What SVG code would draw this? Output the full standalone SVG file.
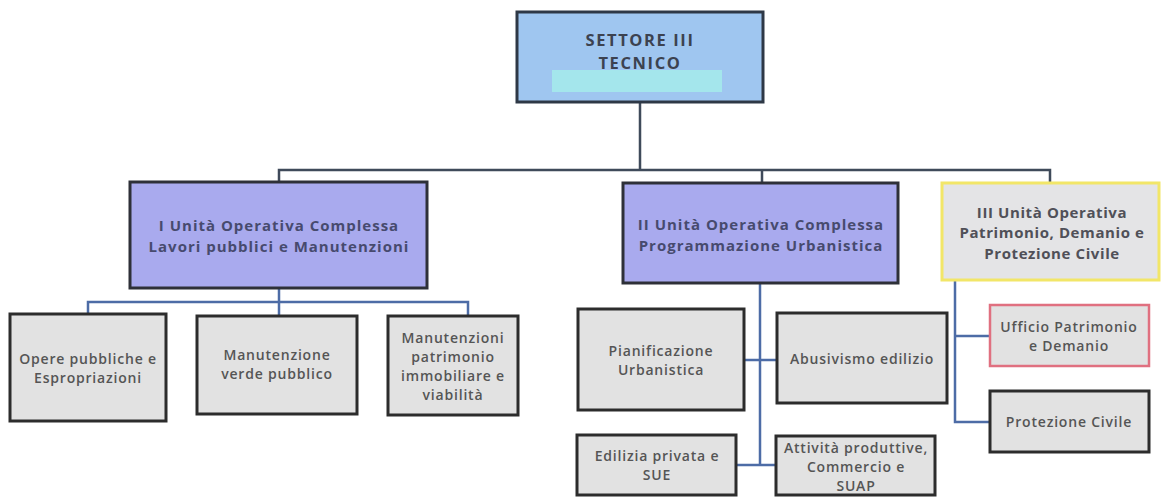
<svg xmlns="http://www.w3.org/2000/svg" width="1168" height="497" viewBox="0 0 1168 497">
<style>
  .top { fill: #9fc6f0; stroke: #2e3846; stroke-width: 3; }
  .uoc { fill: #a9aaee; stroke: #2e3038; stroke-width: 3; }
  .uoc3 { fill: #e4e4e6; stroke: #f2e668; stroke-width: 3; }
  .sub { fill: #e2e2e2; stroke: #2c2c2c; stroke-width: 3; }
  .subred { fill: #e2e2e2; stroke: #e07080; stroke-width: 2.5; }
  .t { font-family: "Open Sans", "Liberation Sans", sans-serif; font-weight: 700; text-anchor: middle; dominant-baseline: central; }
  .tt { font-size: 16.5px; fill: #3c4250; letter-spacing: 1.6px; }
  .tu { font-size: 15px; fill: #474a6e; letter-spacing: 1px; }
  .tu3 { font-size: 15px; fill: #505058; letter-spacing: 0.6px; }
  .ts { font-size: 14px; fill: #555; font-weight: 600; letter-spacing: 0.8px; }
  .bus { fill: none; stroke: #3f4a5a; stroke-width: 2.5; }
  .con { fill: none; stroke: #4d6ca6; stroke-width: 2.5; }
</style>
<g id="connectors">
  <path class="bus" d="M640 102 V170 M279 182 V170 H1050 V182 M762 170 V183"/>
  <path class="con" d="M279 288 V302 M88 313 V302 H468 V315 M279 302 V315"/>
  <path class="con" d="M760 283 V465 M744 360 H777 M736 465 H776"/>
  <path class="con" d="M955 280 V422 H990 M955 336 H990"/>
</g>
<g id="settore">
  <rect class="top" x="517" y="12" width="246" height="90"/>
  <rect x="552" y="70" width="170" height="22" fill="#a4e6ec"/>
  <text class="t tt" x="640" y="39.5">SETTORE III</text>
  <text class="t tt" x="640" y="62">TECNICO</text>
</g>
<g id="uoc1">
  <rect class="uoc" x="130" y="182" width="297" height="106"/>
  <text class="t tu" x="279" y="225">I Unità Operativa Complessa</text>
  <text class="t tu" x="279" y="245.5">Lavori pubblici e Manutenzioni</text>
</g>
<g id="uoc2">
  <rect class="uoc" x="623" y="183" width="275" height="100"/>
  <text class="t tu" x="761" y="224">II Unità Operativa Complessa</text>
  <text class="t tu" x="761" y="244.5">Programmazione Urbanistica</text>
</g>
<g id="uoc3">
  <rect class="uoc3" x="942" y="183" width="217" height="97"/>
  <text class="t tu3" x="1052" y="211.5">III Unità Operativa</text>
  <text class="t tu3" x="1052" y="232">Patrimonio, Demanio e</text>
  <text class="t tu3" x="1052" y="252.5">Protezione Civile</text>
</g>
<g id="opere">
  <rect class="sub" x="10" y="314" width="156" height="107"/>
  <text class="t ts" x="88" y="358">Opere pubbliche e</text>
  <text class="t ts" x="88" y="377.2">Espropriazioni</text>
</g>
<g id="verde">
  <rect class="sub" x="197" y="316" width="160" height="98"/>
  <text class="t ts" x="277" y="354">Manutenzione</text>
  <text class="t ts" x="277" y="373.2">verde pubblico</text>
</g>
<g id="patrimonio">
  <rect class="sub" x="388" y="316" width="130" height="99"/>
  <text class="t ts" x="453" y="337">Manutenzioni</text>
  <text class="t ts" x="453" y="356.2">patrimonio</text>
  <text class="t ts" x="453" y="375.4">immobiliare e</text>
  <text class="t ts" x="453" y="394.6">viabilità</text>
</g>
<g id="pianificazione">
  <rect class="sub" x="578" y="309" width="166" height="101"/>
  <text class="t ts" x="661" y="350">Pianificazione</text>
  <text class="t ts" x="661" y="369.2">Urbanistica</text>
</g>
<g id="abusivismo">
  <rect class="sub" x="777" y="313" width="170" height="90"/>
  <text class="t ts" x="862" y="358">Abusivismo edilizio</text>
</g>
<g id="edilizia">
  <rect class="sub" x="577" y="435" width="159" height="60"/>
  <text class="t ts" x="657" y="455">Edilizia privata e</text>
  <text class="t ts" x="657" y="474.2">SUE</text>
</g>
<g id="attivita">
  <rect class="sub" x="776" y="436" width="159" height="59"/>
  <text class="t ts" x="856" y="447">Attività produttive,</text>
  <text class="t ts" x="856" y="466.2">Commercio e</text>
  <text class="t ts" x="856" y="485.4">SUAP</text>
</g>
<g id="ufficio">
  <rect class="subred" x="990" y="305" width="159" height="61"/>
  <text class="t ts" x="1069" y="326">Ufficio Patrimonio</text>
  <text class="t ts" x="1069" y="345.2">e Demanio</text>
</g>
<g id="protezione">
  <rect class="sub" x="990" y="391" width="159" height="61"/>
  <text class="t ts" x="1069" y="421">Protezione Civile</text>
</g>
</svg>
